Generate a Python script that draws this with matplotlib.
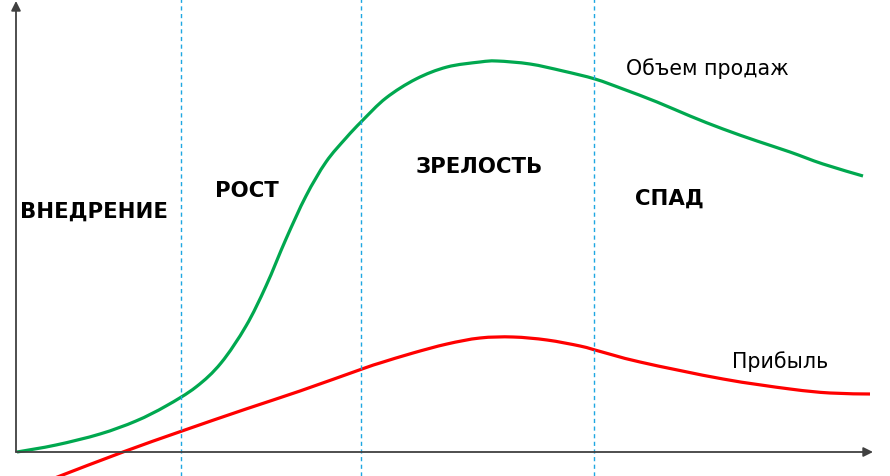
import matplotlib
matplotlib.use("Agg")
import matplotlib.pyplot as plt
from matplotlib.path import Path
from matplotlib.patches import PathPatch

# время (ось x) и уровень (ось y), начало координат в точке пересечения осей
sales_x = [1, 40, 84, 120, 150, 180, 205, 230, 250, 270, 290, 310, 330, 346,
           370, 400, 431, 464, 481, 514, 547, 579, 607, 641, 674, 707, 741, 774,
           807, 847]
sales_y = [0, 7, 18, 31, 46, 65, 89, 126, 166, 213, 256, 290, 314, 331,
           354, 373, 385, 390, 391, 388, 381, 373, 363, 350, 336, 323, 311, 300,
           288, 276]

profit_x = [34, 44, 107, 166, 230, 284, 346, 364, 397, 431, 464, 497, 531, 564, 579,
            624, 707, 774, 814, 854]
profit_y = [-28, -24, 0, 21, 43, 61, 83, 89, 99, 108, 114, 115, 112, 106, 102,
            90, 73, 63, 59, 58]

stage_bounds = [165, 345, 578]
stage_names = ["ВНЕДРЕНИЕ", "РОСТ", "ЗРЕЛОСТЬ", "СПАД"]
stage_label_x = [4, 199, 400, 619]
stage_label_y = [235, 256, 280, 248]


def smooth_path(xs, ys):
    # кривая Безье через точки (Catmull-Rom)
    pts = list(zip(xs, ys))
    verts = [pts[0]]
    codes = [Path.MOVETO]
    n = len(pts)
    for i in range(n - 1):
        p0 = pts[i - 1] if i > 0 else pts[i]
        p1 = pts[i]
        p2 = pts[i + 1]
        p3 = pts[i + 2] if i + 2 < n else pts[i + 1]
        c1 = (p1[0] + (p2[0] - p0[0]) / 6, p1[1] + (p2[1] - p0[1]) / 6)
        c2 = (p2[0] - (p3[0] - p1[0]) / 6, p2[1] - (p3[1] - p1[1]) / 6)
        verts += [c1, c2, p2]
        codes += [Path.CURVE4] * 3
    return Path(verts, codes)


fig = plt.figure(figsize=(8.9, 4.77), dpi=100)
ax = fig.add_axes([0, 0, 1, 1])
ax.set_xlim(-16, 874)
ax.set_ylim(-24, 453)
ax.axis('off')

# оси со стрелками
ax.annotate("", xy=(857, 0), xytext=(0, 0),
            arrowprops=dict(arrowstyle="-|>", color="#404040", lw=1.3,
                            mutation_scale=14, shrinkA=0, shrinkB=0))
ax.annotate("", xy=(0, 451), xytext=(0, 0),
            arrowprops=dict(arrowstyle="-|>", color="#404040", lw=1.3,
                            mutation_scale=14, shrinkA=0, shrinkB=0))

for b in stage_bounds:
    ax.axvline(b, color="#1EA7E1", lw=1.0, ls=(0, (3, 2.5)))

ax.add_patch(PathPatch(smooth_path(sales_x, sales_y), fill=False,
                       edgecolor="#00A84F", lw=2.3, capstyle='butt'))
ax.add_patch(PathPatch(smooth_path(profit_x, profit_y), fill=False,
                       edgecolor="#FF0000", lw=2.3, capstyle='butt'))

for name, tx, ty in zip(stage_names, stage_label_x, stage_label_y):
    ax.text(tx, ty, name, fontsize=15.3, fontweight='bold', ha='left', va='baseline',
            family='DejaVu Sans')

ax.text(610, 378, "Объем продаж", fontsize=14.8, ha='left', va='baseline')
ax.text(716, 85, "Прибыль", fontsize=14.8, ha='left', va='baseline')

fig.savefig("out.png", dpi=100)
